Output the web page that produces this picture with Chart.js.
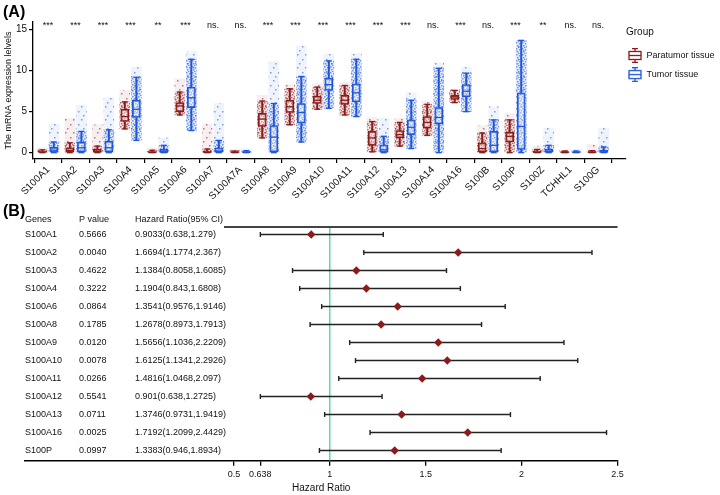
<!DOCTYPE html>
<html>
<head>
<meta charset="utf-8">
<script src="https://cdn.jsdelivr.net/npm/chart.js@4.4.1/dist/chart.umd.min.js"></script>
<style>
  body { margin: 0; background: #fff; }
  #wrap { position: relative; width: 720px; height: 495px; overflow: hidden; }
  #boxWrap { position: absolute; left: 0; top: 0; width: 720px; height: 200px; }
  #forestWrap { position: absolute; left: 0; top: 200px; width: 720px; height: 295px; }
  .tag { position: absolute; left: 3px; font: bold 16px "Liberation Sans", Arial, sans-serif; color: #000; }
</style>
</head>
<body>
<div id="wrap">
  <div id="boxWrap"><canvas id="boxChart"></canvas></div>
  <div id="forestWrap"><canvas id="forestChart"></canvas></div>
  <div class="tag" style="top:3px">(A)</div>
  <div class="tag" style="top:202px">(B)</div>
</div>
<script>
// ---------- panel A data ----------
const genes = ["S100A1","S100A2","S100A3","S100A4","S100A5","S100A6","S100A7","S100A7A","S100A8","S100A9",
  "S100A10","S100A11","S100A12","S100A13","S100A14","S100A16","S100B","S100P","S100Z","TCHHL1","S100G"];
const sig = ["***","***","***","***","**","***","ns.","ns.","***","***","***","***","***","***","ns.","***","ns.","***","**","ns.","ns."];
const yTicksA = [0, 5, 10, 15];

// Paratumor tissue
const paraQ1  = [0.05,0.05,0.05,3.8,0.02,5.0,0.02,0.02,3.2,4.9,6.0,5.9,0.9,1.8,3.0,6.5,0.1,1.3,0.02,0.02,0.02];
const paraMed = [0.1,0.25,0.15,4.4,0.05,5.7,0.08,0.05,4.1,5.6,6.4,6.4,1.8,2.2,3.7,6.8,0.5,2.0,0.08,0.05,0.05];
const paraQ3  = [0.2,0.6,0.4,5.3,0.15,6.1,0.2,0.1,4.8,6.4,6.9,7.0,2.6,2.7,4.4,7.0,1.2,2.5,0.2,0.1,0.12];
const paraLo  = [0,0,0,2.9,0,4.6,0,0,1.8,3.4,5.3,4.6,0.1,0.8,2.1,6.1,0,0,0,0,0];
const paraHi  = [0.35,1.2,0.8,6.2,0.3,7.4,0.45,0.2,6.3,7.8,8.0,8.2,3.8,3.7,5.9,7.6,2.4,4.0,0.4,0.2,0.25];
const paraTop = [0.6,4.2,3.4,7.6,0.6,9.0,3.5,0.4,7.0,8.3,8.4,8.6,4.3,4.2,6.3,7.7,3.3,4.8,0.8,0.3,1.0];

// Tumor tissue
const tumQ1  = [0.05,0.1,0.1,4.3,0.02,5.5,0.05,0.02,0.1,3.6,7.6,6.2,0.05,2.2,3.5,6.8,0.1,0.4,0.05,0.02,0.03];
const tumMed = [0.3,0.6,0.6,5.3,0.1,6.7,0.2,0.06,1.9,4.9,8.3,7.3,0.35,3.1,4.3,7.5,0.9,3.2,0.15,0.05,0.12];
const tumQ3  = [0.65,1.3,1.4,6.4,0.4,8.0,0.6,0.12,3.3,6.0,9.1,8.4,0.95,4.0,5.5,8.3,2.6,7.3,0.4,0.1,0.3];
const tumLo  = [0,0,0,1.5,0,2.7,0,0,0,1.3,5.4,4.4,0,0.5,0,5.0,0,0,0,0,0];
const tumHi  = [1.3,2.6,2.8,9.2,0.9,11.4,1.5,0.25,6.0,9.3,11.2,11.4,2.0,6.4,10.3,9.7,4.0,13.7,0.9,0.2,0.7];
const tumTop = [3.5,5.8,6.7,10.4,1.8,12.3,6.0,0.5,11.1,13.0,12.0,12.1,4.2,7.3,11.0,10.4,5.6,13.7,3.0,0.4,3.0];

// ---------- panel B data ----------
const fGenes = ["S100A1","S100A2","S100A3","S100A4","S100A6","S100A8","S100A9","S100A10","S100A11","S100A12","S100A13","S100A16","S100P"];
const pVals  = ["0.5666","0.0040","0.4622","0.3222","0.0864","0.1785","0.0120","0.0078","0.0266","0.5541","0.0711","0.0025","0.0997"];
const hr     = [0.9033,1.6694,1.1384,1.1904,1.3541,1.2678,1.5656,1.6125,1.4816,0.901,1.3746,1.7192,1.3383];
const ciLo   = [0.638,1.1774,0.8058,0.843,0.9576,0.8973,1.1036,1.1341,1.0468,0.638,0.9731,1.2099,0.946];
const ciHi   = [1.279,2.367,1.6085,1.6808,1.9146,1.7913,2.2209,2.2926,2.097,1.2725,1.9419,2.4429,1.8934];
const hrTicks = [0.5, 0.638, 1, 1.5, 2, 2.5];

const RED = "#8B1A1A", BLUE = "#1F55D8";
const FONT = '"Liberation Sans", Arial, sans-serif';
const OFF = 0.21;

function rgba(hex, a) {
  let n = parseInt(hex.slice(1), 16);
  return `rgba(${n >> 16},${(n >> 8) & 255},${n & 255},${a})`;
}

// dotted texture that stands in for the jittered sample points
function dots(color, a, w, h, spots) {
  let c = document.createElement("canvas");
  c.width = w; c.height = h;
  let g = c.getContext("2d");
  g.fillStyle = rgba(color, 0.07);
  g.fillRect(0, 0, w, h);
  g.fillStyle = rgba(color, a);
  spots.forEach(([x, y]) => g.fillRect(x, y, 1.5, 1.5));
  return g.createPattern(c, "repeat");
}
const denseSpots = [[0,0],[3,1],[1,3],[4,4],[5,2],[2,5]];
const sparseSpots = [[1,2],[6,7],[3,11]];

function ranges(lo, hi, off) {
  return genes.map((g, i) => ({x: i + off, y: [lo[i], hi[i]]}));
}

function whiskerBars(lo, q1, q3, hi, off) {
  let d = [];
  genes.forEach((g, i) => {
    d.push({x: i + off, y: [lo[i], q1[i]]});
    d.push({x: i + off, y: [q3[i], hi[i]]});
  });
  return d;
}

function capPoints(lo, hi, off) {
  let d = [];
  genes.forEach((g, i) => {
    d.push({x: i + off, y: lo[i]});
    d.push({x: i + off, y: hi[i]});
  });
  return d;
}

function groupSets(name, color, q1, med, q3, lo, hi, top, off) {
  return [
    {type: "bar", label: name, data: ranges(lo, top, off), backgroundColor: dots(color, 0.55, 8, 13, sparseSpots),
     barThickness: 10, grouped: false, order: 6},
    {type: "bar", label: name, data: ranges(lo, hi, off), backgroundColor: dots(color, 0.55, 6, 6, denseSpots),
     barThickness: 10, grouped: false, order: 5},
    {type: "bar", label: name, data: whiskerBars(lo, q1, q3, hi, off), backgroundColor: color,
     barThickness: 1.3, grouped: false, order: 4},
    {type: "bar", label: name, data: ranges(q1, q3, off), backgroundColor: "rgba(255,255,255,0.3)",
     borderColor: color, borderWidth: 1.3, borderSkipped: false, barThickness: 8, grouped: false, order: 3},
    {type: "scatter", label: name, data: capPoints(lo, hi, off), pointStyle: "line", pointRadius: 3,
     borderColor: color, borderWidth: 1.3, order: 2},
    {type: "scatter", label: name, data: med.map((v, i) => ({x: i + off, y: v})), pointStyle: "line",
     pointRadius: 4, borderColor: color, borderWidth: 1.3, order: 1}
  ];
}

function boxIcon(color) {
  let c = document.createElement("canvas");
  c.width = 14; c.height = 15;
  let g = c.getContext("2d");
  g.strokeStyle = color; g.lineWidth = 1.3;
  g.beginPath();
  g.moveTo(7, 0.5); g.lineTo(7, 14.5);
  g.moveTo(4, 0.7); g.lineTo(10, 0.7);
  g.moveTo(4, 14.3); g.lineTo(10, 14.3);
  g.stroke();
  g.fillStyle = "#fff";
  g.fillRect(1, 3.5, 12, 8);
  g.strokeRect(1, 3.5, 12, 8);
  g.beginPath(); g.moveTo(1, 7.5); g.lineTo(13, 7.5); g.stroke();
  return c;
}

const sigLabels = {
  id: "sigLabels",
  afterDraw(chart) {
    const {ctx, scales: {x, y}} = chart;
    ctx.save();
    ctx.font = "9px " + FONT;
    ctx.fillStyle = "#111";
    ctx.textAlign = "center";
    ctx.textBaseline = "middle";
    sig.forEach((s, i) => ctx.fillText(s, x.getPixelForValue(i), y.getPixelForValue(15.5)));
    ctx.restore();
  }
};

new Chart(document.getElementById("boxChart"), {
  type: "bar",
  data: {
    datasets: [
      ...groupSets("Paratumor tissue", RED, paraQ1, paraMed, paraQ3, paraLo, paraHi, paraTop, -OFF),
      ...groupSets("Tumor tissue", BLUE, tumQ1, tumMed, tumQ3, tumLo, tumHi, tumTop, OFF)
    ]
  },
  options: {
    responsive: true,
    maintainAspectRatio: false,
    animation: false,
    layout: {padding: {top: 22, left: 0, right: -4.5, bottom: 0}},
    plugins: {
      tooltip: {enabled: false},
      legend: {
        position: "right",
        align: "start",
        title: {display: true, text: "Group", position: "start", color: "#111",
                font: {family: FONT, size: 10}, padding: {top: 5, bottom: 10}},
        labels: {
          usePointStyle: true,
          pointStyleWidth: 14,
          padding: 2,
          color: "#111",
          font: {family: FONT, size: 9, lineHeight: 1.9},
          generateLabels: () => [
            {text: ["Paratumor tissue"], pointStyle: boxIcon(RED), fillStyle: "#fff", strokeStyle: RED, lineWidth: 0, hidden: false, datasetIndex: 0},
            {text: ["Tumor tissue"], pointStyle: boxIcon(BLUE), fillStyle: "#fff", strokeStyle: BLUE, lineWidth: 0, hidden: false, datasetIndex: 6}
          ]
        }
      }
    },
    scales: {
      x: {
        type: "linear",
        offset: false,
        min: -0.55,
        max: 21.02,
        afterBuildTicks: s => { s.ticks = genes.map((g, i) => ({value: i})); },
        afterFit: s => { s.height = 41; },
        grid: {drawOnChartArea: false, tickLength: 4, color: "#000", lineWidth: 1.2},
        border: {color: "#000", width: 1.3},
        ticks: {
          callback: v => genes[v],
          maxRotation: 45, minRotation: 45, autoSkip: false,
          padding: 1, color: "#111", font: {family: FONT, size: 10}
        }
      },
      y: {
        min: -0.77,
        max: 15.94,
        afterBuildTicks: s => { s.ticks = yTicksA.map(v => ({value: v})); },
        afterFit: s => { s.width = 33; },
        grid: {drawOnChartArea: false, tickLength: 4, color: "#000", lineWidth: 1.2},
        border: {color: "#000", width: 1.3},
        ticks: {padding: 2, color: "#111", font: {family: FONT, size: 10}},
        title: {display: true, text: "The mRNA expression lelvels", color: "#111",
                font: {family: FONT, size: 9}, padding: {top: 3, bottom: 0}}
      }
    }
  },
  plugins: [sigLabels]
});

// ---------- panel B ----------
function ciSegments() {
  let d = [];
  fGenes.forEach((g, i) => {
    d.push({x: ciLo[i], y: i}, {x: ciHi[i], y: i}, {x: null, y: null});
  });
  return d;
}

const tableText = {
  id: "tableText",
  afterDraw(chart) {
    const {ctx, chartArea, scales: {y}} = chart;
    const cols = [25, 79, 135];
    ctx.save();
    ctx.strokeStyle = "#444";
    ctx.lineWidth = 2;
    ctx.beginPath();
    ctx.moveTo(224, chartArea.top);
    ctx.lineTo(chartArea.right, chartArea.top);
    ctx.stroke();
    ctx.font = "9px " + FONT;
    ctx.fillStyle = "#111";
    ctx.textBaseline = "middle";
    const hy = y.getPixelForValue(-0.85);
    ["Genes", "P value", "Hazard Ratio(95% CI)"].forEach((t, k) => ctx.fillText(t, cols[k], hy));
    fGenes.forEach((g, i) => {
      const py = y.getPixelForValue(i);
      ctx.fillText(g, cols[0], py);
      ctx.fillText(pVals[i], cols[1], py);
      ctx.fillText(`${hr[i]}(${ciLo[i]},${ciHi[i]})`, cols[2], py);
    });
    ctx.restore();
  }
};

new Chart(document.getElementById("forestChart"), {
  type: "scatter",
  data: {
    datasets: [
      {type: "scatter", label: "HR", data: hr.map((v, i) => ({x: v, y: i})),
       pointStyle: "rectRot", pointRadius: 4.2, backgroundColor: RED, borderColor: RED, borderWidth: 0, order: 1},
      {type: "scatter", label: "caps",
       data: fGenes.flatMap((g, i) => [{x: ciLo[i], y: i}, {x: ciHi[i], y: i}]),
       pointStyle: "line", pointRotation: 90, pointRadius: 2.6, borderColor: "#222", borderWidth: 1.4, order: 2},
      {type: "line", label: "CI", data: ciSegments(), borderColor: "#222", borderWidth: 1.4,
       pointRadius: 0, spanGaps: false, order: 3},
      {type: "line", label: "ref", data: [{x: 1, y: -0.417}, {x: 1, y: 12.567}],
       borderColor: "#3ED690", borderWidth: 1.3, pointRadius: 0, order: 4}
    ]
  },
  options: {
    responsive: true,
    maintainAspectRatio: false,
    animation: false,
    layout: {padding: {top: 27, left: 25, right: 102.5, bottom: 0}},
    plugins: {legend: {display: false}, tooltip: {enabled: false}},
    scales: {
      x: {
        type: "linear",
        min: -0.589,
        max: 2.5,
        afterBuildTicks: s => { s.ticks = hrTicks.map(v => ({value: v})); },
        afterFit: s => { s.height = 34.3; },
        grid: {drawOnChartArea: false, tickLength: 5, color: "#000", lineWidth: 1.3},
        border: {color: "#000", width: 1.4},
        ticks: {callback: v => String(v), padding: 3, color: "#111", font: {family: FONT, size: 9}},
        title: {display: true, text: "Hazard Ratio", color: "#111", font: {family: FONT, size: 10},
                padding: {top: 0, bottom: 1}}
      },
      y: {
        display: false,
        reverse: true,
        min: -0.417,
        max: 12.567
      }
    }
  },
  plugins: [tableText]
});
</script>
</body>
</html>
